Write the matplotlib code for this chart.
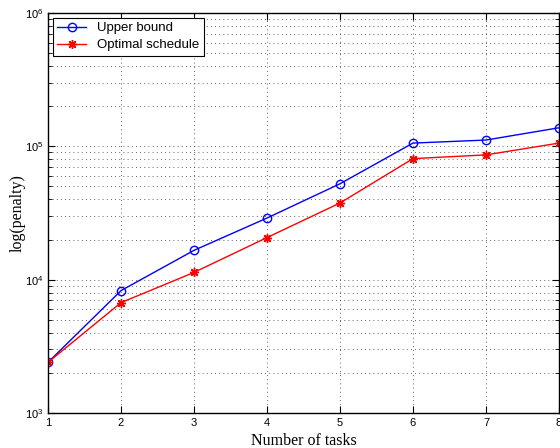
import matplotlib
matplotlib.use('Agg')
import matplotlib.pyplot as plt
import matplotlib.ticker as plticker

tasks = [1, 2, 3, 4, 5, 6, 7, 8]
upper_bound = [2400, 8280, 16600, 29000, 52400, 105800, 111500, 137800]
optimal = [2400, 6730, 11340, 20700, 37600, 80900, 86300, 105800]

plt.rcParams['font.family'] = ['Liberation Sans', 'DejaVu Sans']
plt.rcParams['mathtext.fontset'] = 'custom'
plt.rcParams['mathtext.rm'] = 'Liberation Sans'
plt.rcParams['mathtext.it'] = 'Liberation Sans'

fig = plt.figure(figsize=(5.6, 4.48), dpi=100)
ax = fig.add_axes([0.0857, 0.078, 0.9125, 0.893])

ax.plot(tasks, upper_bound, '-o', c='#0000ff', lw=1, ms=6, mfc='none', mew=1, label='Upper bound')
# matlab style asterisk
ax.plot(tasks, optimal, '-', marker=(8, 2, 0), c='#ff0000', lw=1, ms=6.5, mew=1, label='Optimal schedule')

ax.set_yscale('log')
ax.set_xlim(1, 8)
ax.set_ylim(1e3, 1e6)
ax.xaxis.set_major_locator(plticker.MultipleLocator(1))
ax.yaxis.set_major_locator(plticker.LogLocator(base=10, numticks=10))
ax.yaxis.set_minor_locator(plticker.LogLocator(base=10, subs=range(2, 10), numticks=20))
ax.yaxis.set_minor_formatter(plticker.NullFormatter())

ax.grid(True, which='major', ls=(0, (1, 4)), c='#333333', lw=0.6)
ax.grid(True, which='minor', axis='y', ls=(0, (1, 4)), c='#333333', lw=0.6)

ax.tick_params(axis='both', which='both', direction='in', top=True, right=True, labelsize=8)
ax.tick_params(axis='both', which='major', length=5)
ax.tick_params(axis='both', which='minor', length=3)
for s in ax.spines.values():
  s.set_linewidth(1)

f1 = {'family': 'Liberation Serif', 'size': 11.5}
ax.set_xlabel('Number of tasks', fontdict=f1, labelpad=4)
ax.set_ylabel('log(penalty)', fontdict=f1, labelpad=-1)

leg = ax.legend(loc='upper left', fontsize=9.5, fancybox=False, edgecolor='k', framealpha=1,
                borderaxespad=0.35, handlelength=2.2, borderpad=0.35, labelspacing=0.35)
leg.get_frame().set_linewidth(0.8)

fig.savefig('out.png', dpi=100)
